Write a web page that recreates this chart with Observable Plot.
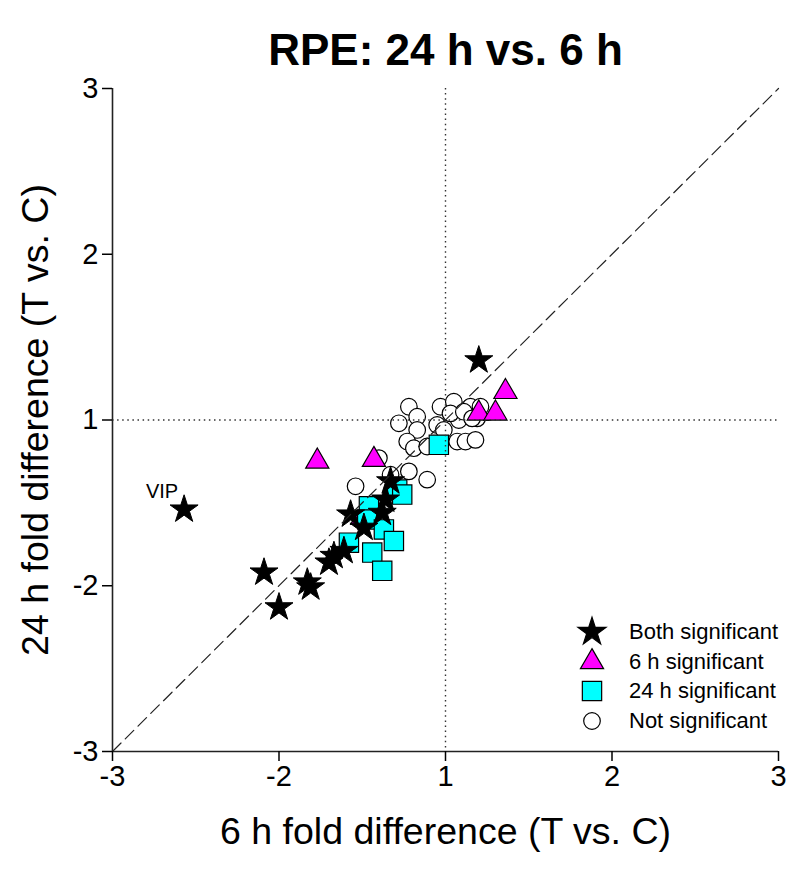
<!DOCTYPE html>
<html><head><meta charset="utf-8">
<script src="https://cdn.jsdelivr.net/npm/d3@7"></script>
<script src="https://cdn.jsdelivr.net/npm/@observablehq/plot@0.6"></script>
<style>
body{margin:0;background:#fff;font-family:"Liberation Sans",Arial,sans-serif;}
#wrap{position:relative;width:800px;height:877px;}
#legend{position:absolute;left:577px;top:617px;font-size:22px;color:#000;}
.row{display:flex;align-items:center;height:29.7px;white-space:nowrap;}
.row svg{width:30px;height:30px;margin-right:22px;overflow:visible;}
</style></head><body><div id="wrap"></div>
<script>
// ---- data (fold differences, T vs. C) ----
const titleText = "RPE: 24 h vs. 6 h";
const xLabel = "6 h fold difference (T vs. C)";
const yLabel = "24 h fold difference (T vs. C)";
const xTickLabels = [-3, -2, 1, 2, 3];
const yTickLabels = [-3, -2, 1, 2, 3];
const diagonal = [-3, 3];
const refValue = 1;

// Both significant (stars)
const bothX = [1.20, -2.57, -2.09, -2.00, -1.83, -1.81, -1.70, -1.67, -1.61, -1.57, -1.49, -1.38, -1.36, -1.33];
const bothY = [1.36, -1.54, -1.92, -2.13, -1.98, -2.01, -1.86, -1.82, -1.79, -1.57, -1.65, -1.56, -1.48, -1.37];
const bothNames = ["", "VIP", "", "", "", "", "", "", "", "", "", "", "", ""];
// 6 h significant (triangles)
const sixX = [-1.77, -1.43, 1.20, 1.30, 1.36, -1.50];
const sixY = [-1.25, -1.24, 1.04, 1.04, 1.17, -1.59];
// 24 h significant (squares)
const tfX = [-1.04, -1.29, -1.26, -1.46, -1.47, -1.37, -1.31, -1.58, -1.44, -1.38];
const tfY = [-1.15, -1.42, -1.45, -1.52, -1.60, -1.66, -1.73, -1.74, -1.80, -1.91];
// Not significant (circles)
const notX = [-1.22, -1.17, -1.28, -1.17, -1.23, -1.19, -1.11, -1.03, 1.05, 1.08, 1.03, -1.05, 1.07, 1.12, 1.18, 1.15, 1.21, 1.19, -1.01, -1.22, -1.11, -1.54, -1.40, -1.33, 1.11, 1.16];
const notY = [1.08, 1.02, -1.02, -1.06, -1.13, -1.17, -1.16, 1.08, 1.11, 1.00, 1.04, -1.03, -1.13, -1.13, -1.12, 1.08, 1.08, 1.01, -1.06, -1.31, -1.36, -1.40, -1.23, -1.33, 1.05, 1.01];

const legendItems = ["Both significant", "6 h significant", "24 h significant", "Not significant"];

// ---- helpers ----
// fold-difference axis: -1 and +1 coincide
const pos = v => v >= 1 ? v + 1 : v + 3;
const mk = (xs, ys, names) => xs.map((x, i) => ({x, y: ys[i], name: names ? names[i] : ""}));
const both = mk(bothX, bothY, bothNames);
const six = mk(sixX, sixY);
const tf = mk(tfX, tfY);
const notSig = mk(notX, notY);
const px = d => pos(d.x), py = d => pos(d.y);
const xTicks = xTickLabels.map(pos), yTicks = yTickLabels.map(pos);

const font = '"Liberation Sans", Arial, sans-serif';
const sym = {
  star: {type: "star", r: 8.8, fill: "#000000"},
  triangle: {type: "triangle", r: 8.6, fill: "#ff00ff"},
  square: {type: "square", r: 10.9, fill: "#00ffff"},
  circle: {type: "circle", r: 8.3, fill: "#ffffff"}
};

const chart = Plot.plot({
  width: 800, height: 877,
  marginLeft: 112, marginRight: 22, marginTop: 88, marginBottom: 126,
  style: {fontFamily: font, background: "white", color: "black", overflow: "visible"},
  x: {type: "linear", domain: [xTicks[0], xTicks[xTicks.length - 1]], axis: null},
  y: {type: "linear", domain: [yTicks[0], yTicks[yTicks.length - 1]], axis: null},
  marks: [
    Plot.dot(notSig, {x: px, y: py, symbol: "circle", r: sym.circle.r, fill: sym.circle.fill, stroke: "black", strokeWidth: 1.2}),
    Plot.dot(six, {x: px, y: py, symbol: "triangle", r: sym.triangle.r, fill: sym.triangle.fill, stroke: "black", strokeWidth: 1.2}),
    Plot.dot(tf, {x: px, y: py, symbol: "square", r: sym.square.r, fill: sym.square.fill, stroke: "black", strokeWidth: 1.2}),
    Plot.dot(both, {x: px, y: py, symbol: "star", r: sym.star.r, fill: sym.star.fill, stroke: "black", strokeWidth: 1}),
    Plot.text(both.filter(d => d.name), {x: px, y: py, text: "name", dx: -22, dy: -18, fontSize: 20, fill: "black"}),
    Plot.ruleX([pos(refValue)], {stroke: "#333", strokeWidth: 1.4, strokeDasharray: "1.5,3.6"}),
    Plot.ruleY([pos(refValue)], {stroke: "#333", strokeWidth: 1.4, strokeDasharray: "1.5,3.6"}),
    Plot.line(diagonal, {x: d => pos(d), y: d => pos(d), stroke: "#222", strokeWidth: 1.2, strokeDasharray: "12,6"}),
    Plot.ruleX([xTicks[0]], {stroke: "#222", strokeWidth: 1.6}),
    Plot.ruleY([yTicks[0]], {stroke: "#222", strokeWidth: 1.6}),
    Plot.axisX({ticks: xTicks, tickFormat: t => String(xTickLabels[xTicks.indexOf(t)]), tickSize: 10, tickPadding: 4, strokeWidth: 1.5, fontSize: 29, label: null}),
    Plot.axisY({ticks: yTicks, tickFormat: t => String(yTickLabels[yTicks.indexOf(t)]), tickSize: 10, tickPadding: 4, strokeWidth: 1.5, fontSize: 29, label: null}),
    Plot.text([xLabel], {text: d => d, frameAnchor: "bottom", textAnchor: "middle", dy: 92, fontSize: 37.5, fill: "black"}),
    Plot.text([yLabel], {text: d => d, frameAnchor: "left", textAnchor: "middle", rotate: -90, dx: -77, fontSize: 37.5, fill: "black"}),
    Plot.text([titleText], {text: d => d, frameAnchor: "top", textAnchor: "middle", dy: -55, fontSize: 44, fontWeight: "bold", fill: "black"})
  ]
});
const wrap = document.getElementById("wrap");
wrap.appendChild(chart);

// ---- legend ----
const legend = document.createElement("div");
legend.id = "legend";
const keys = ["star", "triangle", "square", "circle"];
const d3types = {star: d3.symbolStar, triangle: d3.symbolTriangle, square: d3.symbolSquare, circle: d3.symbolCircle};
legendItems.forEach((label, i) => {
  const s = sym[keys[i]];
  const row = document.createElement("div");
  row.className = "row";
  const path = d3.symbol().type(d3types[keys[i]]).size(s.r * s.r * Math.PI)();
  row.innerHTML = `<svg viewBox="-15 -15 30 30"><path d="${path}" fill="${s.fill}" stroke="black" stroke-width="1.2"/></svg><span>${label}</span>`;
  legend.appendChild(row);
});
wrap.appendChild(legend);
</script></body></html>
